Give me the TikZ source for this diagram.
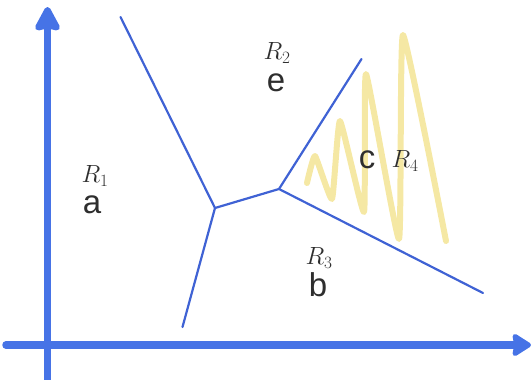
\documentclass[tikz,border=0pt]{standalone}
\usepackage{fontspec}
\setmainfont{Liberation Sans}
\usetikzlibrary{arrows.meta}
\definecolor{axisblue}{HTML}{4673E6}
\definecolor{lineblue}{HTML}{3F62D4}
\definecolor{scribble}{HTML}{F4E69A}
\definecolor{txt}{HTML}{2E2E2E}
\tikzset{
  axis/.style={draw=axisblue, line width=7.5pt},
  edge/.style={draw=lineblue, line width=2.2pt, line cap=round},
  letter/.style={text=txt, inner sep=0pt, font=\fontsize{33}{33}\selectfont},
  reg/.style={text=txt, inner sep=0pt, font=\fontsize{27}{27}\selectfont},
}
\begin{document}
\begin{tikzpicture}[x=1pt,y=-1pt]
\useasboundingbox (0,0) rectangle (531,380);
% axes
\coordinate (ybot) at (47.5,382);
\coordinate (ytop) at (47.5,7);
\coordinate (xleft) at (6,345);
\coordinate (xright) at (531,345);
\draw[axis, -{Stealth[length=28pt,width=29pt,inset=3pt,round]}] (ybot) -- (ytop);
\draw[axis, line cap=round, -{Stealth[length=21pt,width=26pt,inset=2pt,round]}] (xleft) -- (xright);
% scribble
\draw[draw=scribble, line width=6pt, line cap=round, line join=round, opacity=0.9]
  plot[smooth, tension=0.25] coordinates {(307,183) (315,156) (332,199) (340,121) (364,212) (366,74) (399,239) (403,35) (446,241)};
% voronoi edges
\coordinate (A) at (215,208);
\coordinate (B) at (279,189);
\coordinate (e1) at (120.5,17);
\coordinate (e2) at (182.5,327);
\coordinate (e3) at (361.5,59);
\coordinate (e4) at (483,293);
\draw[edge] (e1) -- (A);
\draw[edge] (A) -- (e2);
\draw[edge, line join=round] (A) -- (B);
\draw[edge] (B) -- (e3);
\draw[edge] (B) -- (e4);
% labels
\node[reg] (r1) at (95,176) {$R_1$};
\node[letter] (la) at (92,205) {a};
\node[reg] (r2) at (277,53) {$R_2$};
\node[letter] (le) at (276,83) {e};
\node[reg] (r3) at (319,258) {$R_3$};
\node[letter] (lb) at (318,285) {b};
\node[letter] (lc) at (367,160) {c};
\node[reg] (r4) at (405,161) {$R_4$};
\end{tikzpicture}
\end{document}
